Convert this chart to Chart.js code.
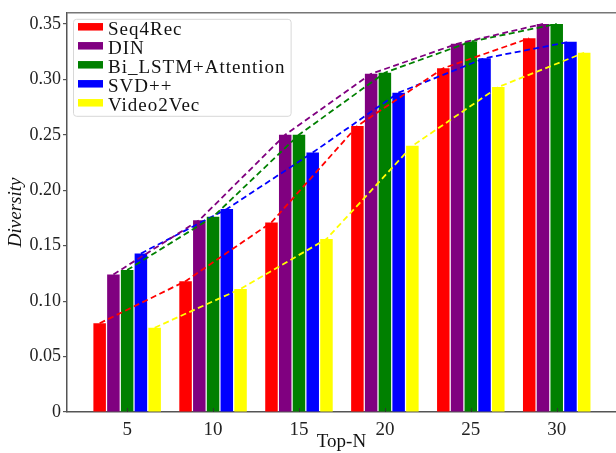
<!DOCTYPE html>
<html>
<head>
<meta charset="utf-8">
<script src="https://cdn.jsdelivr.net/npm/chart.js@4/dist/chart.umd.min.js"></script>
<style>
html,body{margin:0;padding:0;background:#fff;overflow:hidden}
#wrap{width:616px;height:453px;position:relative}
</style>
</head>
<body>
<div id="wrap"><canvas id="c" width="616" height="453"></canvas></div>
<script>
// ---- data ----
const topN = [5, 10, 15, 20, 25, 30];
const seriesNames = ['Seq4Rec', 'DIN', 'Bi_LSTM+Attention', 'SVD++', 'Video2Vec'];
const seq4rec   = [0.080, 0.118, 0.171, 0.258, 0.310, 0.337];
const din       = [0.124, 0.173, 0.250, 0.305, 0.332, 0.350];
const biLstmAtt = [0.128, 0.176, 0.250, 0.306, 0.334, 0.350];
const svdpp     = [0.143, 0.183, 0.234, 0.288, 0.319, 0.334];
const video2vec = [0.076, 0.111, 0.156, 0.240, 0.293, 0.324];
const yTicks = [0, 0.05, 0.10, 0.15, 0.20, 0.25, 0.30, 0.35];

// ---- styles ----
const seriesValues = [seq4rec, din, biLstmAtt, svdpp, video2vec];
const seriesColors = ['#ff0000', '#800080', '#008000', '#0000ff', '#ffff00'];
const SERIF = '"Liberation Serif", "DejaVu Serif", serif';
const categoryPercentage = 0.8;
const barPercentage = 0.91;

const nS = seriesNames.length;
const stepN = topN[1] - topN[0];
const shiftFor = i => (i - (nS - 1) / 2) * stepN * categoryPercentage / nS;

const barSets = seriesNames.map((name, i) => ({
  type: 'bar',
  label: name,
  order: 1,
  data: topN.map((n, j) => ({x: n, y: seriesValues[i][j]})),
  backgroundColor: seriesColors[i],
  borderWidth: 0,
  categoryPercentage: categoryPercentage,
  barPercentage: barPercentage
}));
const lineSets = seriesNames.map((name, i) => ({
  type: 'line',
  label: name + ' trend',
  order: 0,
  data: topN.map((n, j) => ({x: n + shiftFor(i), y: seriesValues[i][j]})),
  borderColor: seriesColors[i],
  borderWidth: 1.8,
  borderDash: [6, 3.5],
  pointRadius: 0,
  fill: false,
  tension: 0
}));

const axisColor = '#555';

const decor = {
  id: 'decor',
  afterDatasetsDraw(chart) {
    const ctx = chart.ctx;
    const ca = chart.chartArea;
    const xs = chart.scales.x;
    ctx.save();
    // top spine
    ctx.strokeStyle = '#777';
    ctx.lineWidth = 1.5;
    ctx.beginPath();
    ctx.moveTo(ca.left, ca.top);
    ctx.lineTo(ca.right + 2, ca.top);
    ctx.stroke();
    // inward x ticks
    ctx.strokeStyle = '#333';
    ctx.lineWidth = 1;
    topN.forEach(v => {
      const px = Math.round(xs.getPixelForValue(v)) + 0.5;
      ctx.beginPath();
      ctx.moveTo(px, ca.bottom);
      ctx.lineTo(px, ca.bottom - 4);
      ctx.stroke();
    });
    // legend
    const fs = 19;
    ctx.font = fs + 'px ' + SERIF;
    try { ctx.letterSpacing = '1px'; } catch (e) {}
    let maxW = 0;
    seriesNames.forEach(n => { maxW = Math.max(maxW, ctx.measureText(n).width); });
    const fx = ca.left + 6, fy = ca.top + 6;
    const boxX = fx + 5, boxW = 25, boxH = 7.5;
    const textX = boxX + boxW + 5;
    const rowH = 19;
    const firstRow = fy + 8;
    const fw = textX + maxW + 5 - fx;
    const fh = rowH * nS + 2;
    ctx.fillStyle = 'rgba(255,255,255,0.9)';
    ctx.strokeStyle = '#d8d8d8';
    ctx.lineWidth = 1;
    ctx.beginPath();
    if (ctx.roundRect) ctx.roundRect(fx + 0.5, fy + 0.5, fw, fh, 3); else ctx.rect(fx + 0.5, fy + 0.5, fw, fh);
    ctx.fill();
    ctx.stroke();
    ctx.textBaseline = 'alphabetic';
    ctx.textAlign = 'left';
    seriesNames.forEach((n, i) => {
      const cy = firstRow + i * rowH;
      ctx.fillStyle = seriesColors[i];
      ctx.fillRect(boxX, cy - boxH / 2, boxW, boxH);
      ctx.fillStyle = '#111';
      ctx.fillText(n, textX, cy + 8.5);
    });
    ctx.restore();
  }
};

new Chart(document.getElementById('c'), {
  type: 'bar',
  data: {datasets: [...barSets, ...lineSets]},
  options: {
    responsive: false,
    devicePixelRatio: 1,
    animation: false,
    layout: {padding: {top: 11, right: 0, bottom: 0, left: 0}},
    plugins: {legend: {display: false}, tooltip: {enabled: false}, title: {display: false}},
    scales: {
      x: {
        type: 'linear',
        offset: false,
        min: 1.5,
        max: 33.45,
        afterBuildTicks: s => { s.ticks = topN.map(v => ({value: v})); },
        afterFit: s => { s.height = 41; },
        ticks: {
          font: {family: SERIF, size: 19},
          color: '#222',
          padding: 7,
          maxRotation: 0,
          callback: v => String(v)
        },
        grid: {display: false, drawTicks: false, drawOnChartArea: false, offset: false},
        border: {display: true, color: axisColor, width: 1.5},
        title: {
          display: true,
          text: 'Top-N',
          color: '#111',
          font: {family: SERIF, size: 19, lineHeight: 1.0},
          padding: {top: 0, bottom: 1}
        }
      },
      y: {
        type: 'linear',
        min: 0,
        max: 0.36,
        afterBuildTicks: s => { s.ticks = yTicks.map(v => ({value: v})); },
        afterFit: s => { s.width = 67; },
        ticks: {
          font: {family: SERIF, size: 18},
          color: '#222',
          padding: 2,
          callback: v => (v === 0 ? '0' : v.toFixed(2))
        },
        grid: {display: true, drawOnChartArea: false, drawTicks: true, tickLength: 4, color: axisColor, lineWidth: 1.2},
        border: {display: true, color: axisColor, width: 1.5},
        title: {
          display: true,
          text: 'Diversity',
          color: '#111',
          font: {family: SERIF, size: 19, style: 'italic', lineHeight: 1.1},
          padding: {top: 6, bottom: 0}
        }
      }
    }
  },
  plugins: [decor]
});
</script>
</body>
</html>
